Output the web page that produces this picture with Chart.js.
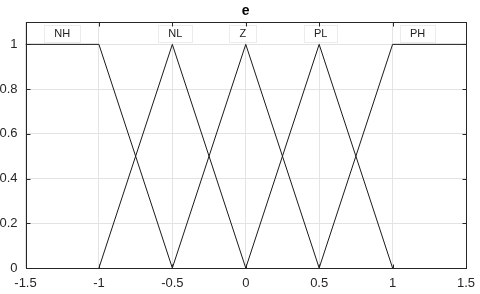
<!DOCTYPE html>
<html>
<head>
<meta charset="utf-8">
<script src="https://cdn.jsdelivr.net/npm/chart.js@4/dist/chart.umd.min.js"></script>
<style>
  html, body { margin: 0; padding: 0; background: #fff; }
  #wrap { width: 480px; height: 294px; }
</style>
</head>
<body>
<div id="wrap"><canvas id="c" width="480" height="294"></canvas></div>
<script>
// membership functions for input "e"
const nhX = [-1.5, -1, -0.5];
const nhY = [1, 1, 0];
const nlX = [-1, -0.5, 0];
const nlY = [0, 1, 0];
const zX = [-0.5, 0, 0.5];
const zY = [0, 1, 0];
const plX = [0, 0.5, 1];
const plY = [0, 1, 0];
const phX = [0.5, 1, 1.5];
const phY = [0, 1, 1];

const mfNames = ['NH', 'NL', 'Z', 'PL', 'PH'];
const mfLabelX = [-1.25, -0.48, -0.02, 0.51, 1.17];
const mfLabelY = 1.05;

const xTicks = [-1.5, -1, -0.5, 0, 0.5, 1, 1.5];
const yTicks = [0, 0.2, 0.4, 0.6, 0.8, 1];

const toPts = (xs, ys) => xs.map((x, i) => ({ x: x, y: ys[i] }));
const series = [
  toPts(nhX, nhY), toPts(nlX, nlY), toPts(zX, zY), toPts(plX, plY), toPts(phX, phY)
];

const axisColor = '#262626';
const fontFam = '"Liberation Sans", Arial, sans-serif';

// box, inward ticks, mf labels and title
const matlabLook = {
  id: 'matlabLook',
  afterDatasetsDraw(chart) {
    const ctx = chart.ctx;
    const a = chart.chartArea;
    const xs = chart.scales.x, ys = chart.scales.y;
    ctx.save();
    // labels in little boxes
    ctx.font = '11px ' + fontFam;
    ctx.textAlign = 'center';
    ctx.textBaseline = 'middle';
    mfNames.forEach((name, i) => {
      const px = xs.getPixelForValue(mfLabelX[i]);
      const py = ys.getPixelForValue(mfLabelY);
      const w = ctx.measureText(name).width + 20;
      ctx.fillStyle = '#fff';
      ctx.fillRect(px - w / 2, py - 8.5, w, 17);
      ctx.strokeStyle = '#ececec';
      ctx.lineWidth = 1;
      ctx.strokeRect(Math.round(px - w / 2) + 0.5, Math.round(py - 8.5) + 0.5, Math.round(w), 17);
      ctx.fillStyle = '#222';
      ctx.fillText(name, px, py + 0.5);
    });
    // axes box
    ctx.strokeStyle = axisColor;
    ctx.lineWidth = 1;
    const l = Math.round(a.left) + 0.5, r = Math.round(a.right) + 0.5;
    const t = Math.round(a.top) + 0.5, b = Math.round(a.bottom) + 0.5;
    ctx.strokeRect(l, t, r - l, b - t);
    // inward ticks
    ctx.beginPath();
    xTicks.forEach(v => {
      const px = Math.round(xs.getPixelForValue(v)) + 0.5;
      ctx.moveTo(px, b); ctx.lineTo(px, b - 4);
      ctx.moveTo(px, t); ctx.lineTo(px, t + 4);
    });
    yTicks.forEach(v => {
      const py = Math.round(ys.getPixelForValue(v)) + 0.5;
      ctx.moveTo(l, py); ctx.lineTo(l + 4, py);
      ctx.moveTo(r, py); ctx.lineTo(r - 4, py);
    });
    ctx.stroke();
    // title
    ctx.fillStyle = '#000';
    ctx.font = 'bold 14px ' + fontFam;
    ctx.textAlign = 'center';
    ctx.textBaseline = 'middle';
    ctx.fillText('e', (a.left + a.right) / 2, 11);
    ctx.restore();
  }
};

new Chart(document.getElementById('c'), {
  type: 'scatter',
  data: {
    datasets: series.map(pts => ({
      data: pts,
      showLine: true,
      borderColor: '#1a1a1a',
      borderWidth: 1,
      pointRadius: 0,
      fill: false,
      tension: 0
    }))
  },
  options: {
    responsive: false,
    animation: false,
    layout: { padding: { top: 22, right: 14, left: 0, bottom: 0 } },
    plugins: {
      legend: { display: false },
      tooltip: { enabled: false },
      title: { display: false }
    },
    scales: {
      x: {
        type: 'linear',
        min: -1.5,
        max: 1.5,
        afterBuildTicks: s => { s.ticks = xTicks.map(v => ({ value: v })); },
        afterFit: s => { s.height = 26; s.paddingLeft = 0; s.paddingRight = 0; },
        grid: { color: '#e3e3e3', drawTicks: false },
        border: { display: false },
        ticks: {
          color: axisColor,
          padding: 8,
          maxRotation: 0,
          font: { family: fontFam, size: 13 },
          callback: v => String(v)
        }
      },
      y: {
        type: 'linear',
        min: 0,
        max: 1.1,
        afterBuildTicks: s => { s.ticks = yTicks.map(v => ({ value: v })); },
        afterFit: s => { s.width = 25.5; s.paddingTop = 0; s.paddingBottom = 0; },
        grid: { color: '#e3e3e3', drawTicks: false },
        border: { display: false },
        ticks: {
          color: axisColor,
          padding: 8,
          font: { family: fontFam, size: 13 },
          callback: v => String(v)
        }
      }
    }
  },
  plugins: [matlabLook]
});
</script>
</body>
</html>
